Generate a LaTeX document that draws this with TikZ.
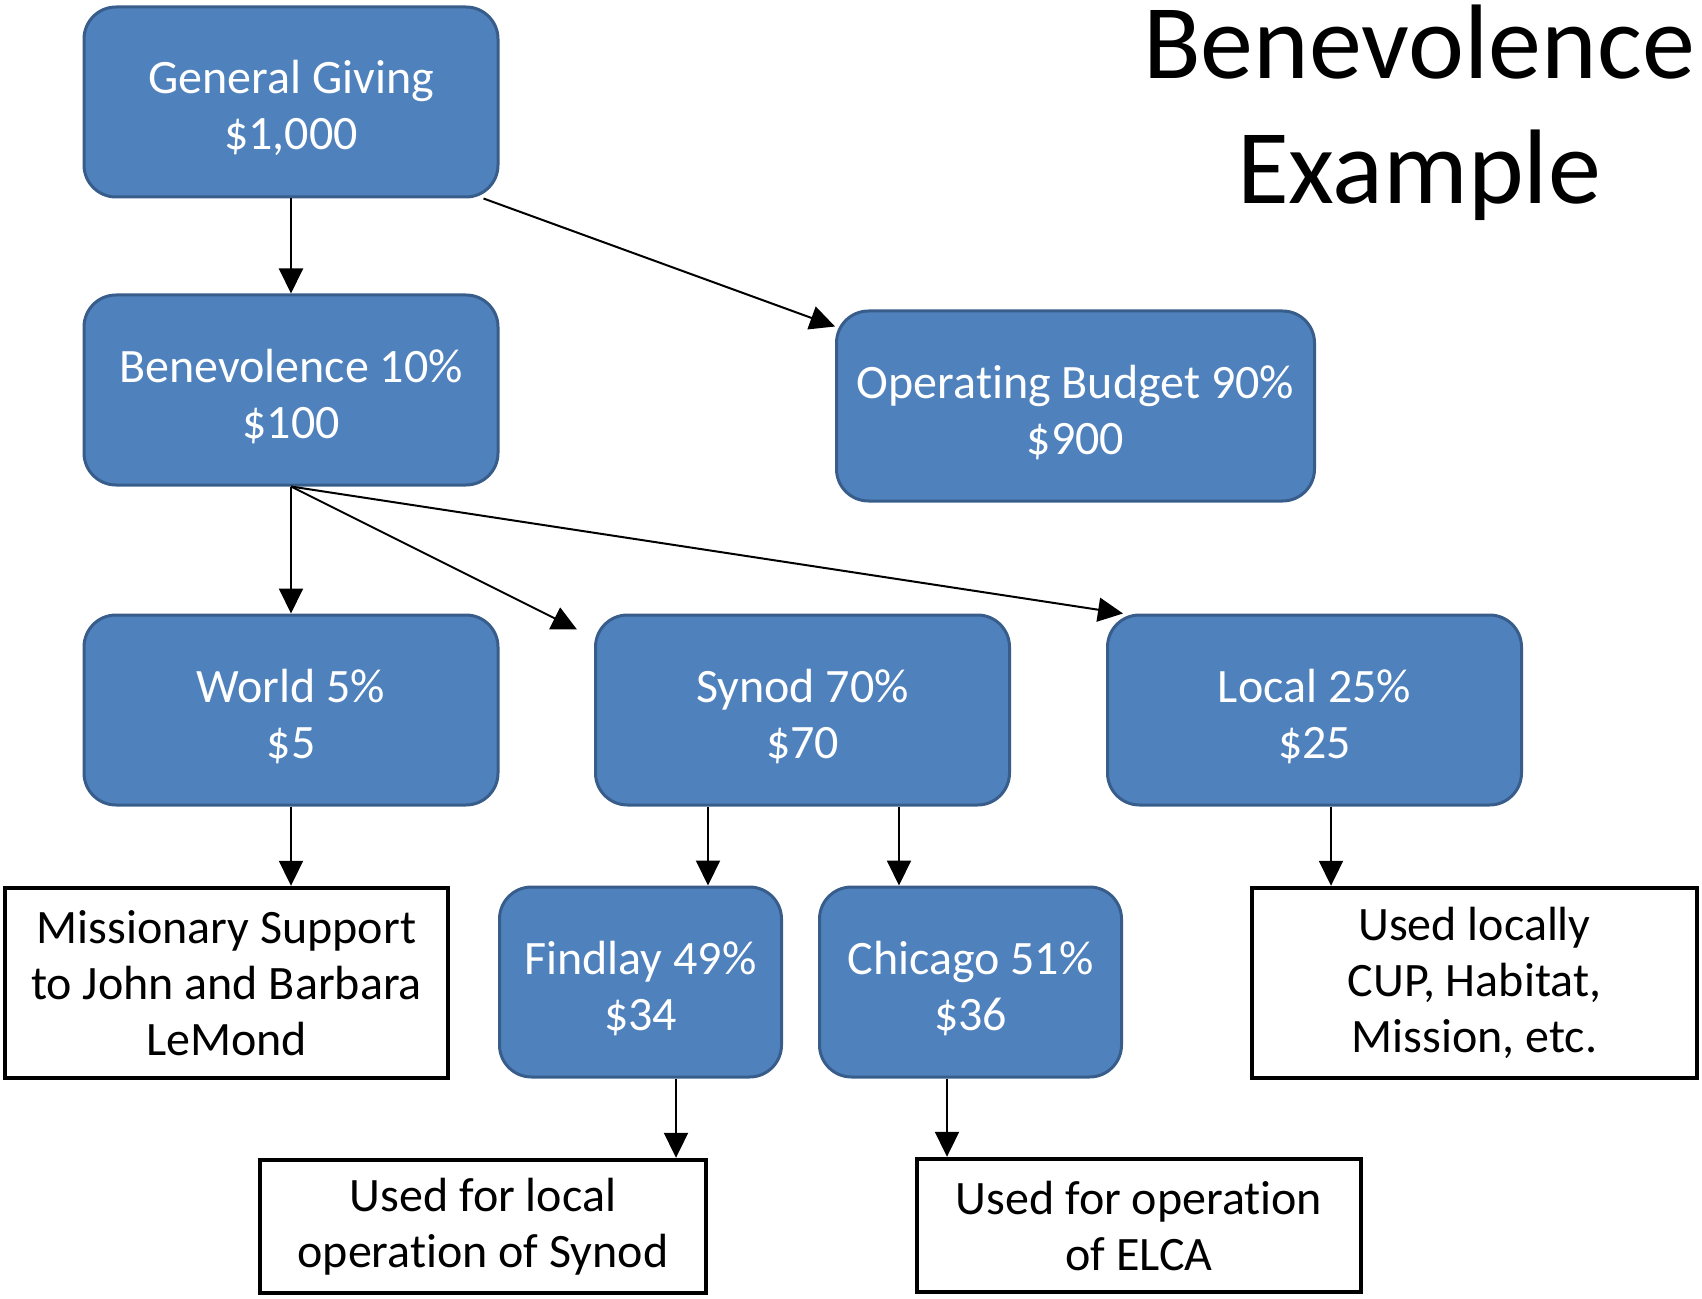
\documentclass[tikz,border=0pt]{standalone}
\usepackage{fontspec}
\setmainfont{Carlito}[Ligatures=NoCommon]
\usetikzlibrary{arrows.meta}
\definecolor{boxblue}{HTML}{4F81BD}
\definecolor{boxedge}{HTML}{385D8A}
% taller first line, so the text sits a little low in the blue boxes
\newcommand\lift{\rule{0pt}{23pt}}

\begin{document}
\begin{tikzpicture}[x=0.5pt, y=-0.5pt,
    fund/.style={draw=boxedge, fill=boxblue, line width=1.5pt, rounded corners=16pt,
        text=white, align=center, minimum width=207pt, minimum height=95pt,
        font=\fontsize{24}{28}\selectfont},
    usebox/.style={draw=black, line width=2.2pt, align=center, minimum height=95pt,
        font=\fontsize{24}{28}\selectfont},
    flow/.style={-{Triangle[length=12.5pt, width=12pt]}, line width=1pt}]
    % Fix the page size
    \useasboundingbox (0,0) rectangle (1702,1299);

    % Title
    \node[align=center, font=\fontsize{53}{62.5}\selectfont] (title) at (1419,113) {Benevolence\\Example};

    % Top level
    \node[fund] (giving) at (291,102) {\lift General Giving\\\$1,000};
    \node[fund] (benev) at (291,390) {\lift Benevolence 10\%\\\$100};
    \node[fund, minimum width=239pt] (budget) at (1075.5,406) {\lift Operating Budget 90\%\\\$900};

    % Benevolence split
    \node[fund] (world) at (291,710) {\lift World 5\%\\\$5};
    \node[fund] (synod) at (802.5,710) {\lift Synod 70\%\\\$70};
    \node[fund] (local) at (1314.5,710) {\lift Local 25\%\\\$25};

    % Synod split
    \node[fund, minimum width=141pt] (findlay) at (640.5,982) {\lift Findlay 49\%\\\$34};
    \node[fund, minimum width=151pt] (chicago) at (970.5,982) {\lift Chicago 51\%\\\$36};

    % Where the money ends up
    \node[usebox, minimum width=221.5pt] (mission) at (226.5,983) {Missionary Support\\to John and Barbara\\LeMond};
    \node[usebox, minimum width=222.5pt] (locally) at (1474.5,983) {Used locally\\CUP, Habitat,\\Mission, etc.};
    \node[usebox, minimum width=223pt, minimum height=66.5pt] (synodop) at (483,1226.5) {Used for local\\operation of Synod};
    \node[usebox, minimum width=222pt, minimum height=66.5pt] (elca) at (1139,1225.5) {Used for operation\\of ELCA};

    % Arrows
    \draw[flow] (giving.south) -- (benev.north);
    \draw[flow] ([xshift=-8pt]giving.south east) -- ([yshift=-8.5pt]budget.north west);
    \draw[flow] (benev.south) -- (world.north);
    \draw[flow] (benev.south) -- ([xshift=-8.5pt, yshift=-8pt]synod.north west);
    \draw[flow] (benev.south) -- ([xshift=8.5pt]local.north west);
    \draw[flow] (world.south) -- (world.south |- mission.north);
    \draw[flow] ([xshift=-47.25pt]synod.south) -- ([xshift=-47.25pt]synod.south |- findlay.north);
    \draw[flow] ([xshift=48.25pt]synod.south) -- ([xshift=48.25pt]synod.south |- chicago.north);
    \draw[flow] ([xshift=8.25pt]local.south) -- ([xshift=8.25pt]local.south |- locally.north);
    \draw[flow] ([xshift=17.75pt]findlay.south) -- ([xshift=17.75pt]findlay.south |- synodop.north);
    \draw[flow] ([xshift=-11.75pt]chicago.south) -- ([xshift=-11.75pt]chicago.south |- elca.north);
\end{tikzpicture}
\end{document}
